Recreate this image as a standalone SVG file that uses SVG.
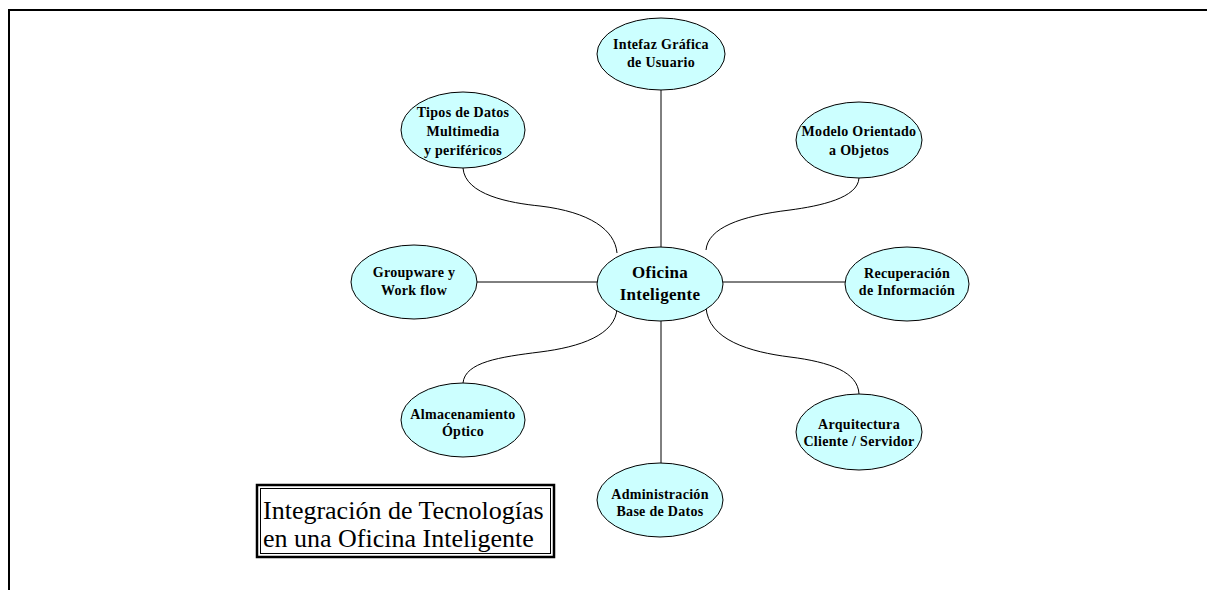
<svg xmlns="http://www.w3.org/2000/svg" width="1207" height="590" viewBox="0 0 1207 590">
<style>
.n ellipse{fill:#ccffff;stroke:#000;stroke-width:1}
.n text{font-family:"Liberation Serif","Times New Roman",serif;font-weight:bold;font-size:14px;letter-spacing:0.3px;text-anchor:middle;fill:#000}
.c path,.c line{fill:none;stroke:#000;stroke-width:1}
.t{font-family:"Liberation Serif","Times New Roman",serif;font-size:26px;fill:#000}
</style>
<rect width="1207" height="590" fill="#fff"/>
<path d="M9,590 V10 H1207" fill="none" stroke="#000" stroke-width="2"/>
<g class="c" id="connectors">
<line x1="661" y1="90" x2="661" y2="247"/>
<line x1="661" y1="321" x2="661" y2="463"/>
<line x1="477" y1="282" x2="598" y2="282"/>
<line x1="723" y1="282" x2="845" y2="282"/>
<path d="M463,168 C465,195 510,203 540,206 C590,212 615,230 617,253"/>
<path d="M859,178 C858,198 820,206 790,210 C740,216 708,228 706,250"/>
<path d="M617,308 C616,335 580,347 540,352 C500,357 465,362 463,383"/>
<path d="M706,307 C708,340 750,352 790,357 C830,362 858,372 859,394"/>
</g>
<g class="n" id="interfaz">
<ellipse cx="661" cy="54" rx="64" ry="36"/>
<text x="661" y="49">Intefaz Gráfica</text>
<text x="661" y="67">de Usuario</text>
</g>
<g class="n" id="tipos">
<ellipse cx="463" cy="130" rx="62" ry="38"/>
<text x="463" y="117">Tipos de Datos</text>
<text x="463" y="136">Multimedia</text>
<text x="463" y="155">y periféricos</text>
</g>
<g class="n" id="modelo">
<ellipse cx="859" cy="140" rx="63" ry="38"/>
<text x="859" y="136">Modelo Orientado</text>
<text x="859" y="155">a Objetos</text>
</g>
<g class="n" id="groupware">
<ellipse cx="414" cy="282" rx="63" ry="37"/>
<text x="414" y="277">Groupware y</text>
<text x="414" y="295">Work flow</text>
</g>
<g class="n" id="oficina">
<ellipse cx="660" cy="284" rx="63" ry="37"/>
<text x="660" y="278" style="font-size:17px">Oficina</text>
<text x="660" y="300" style="font-size:17px">Inteligente</text>
</g>
<g class="n" id="recuperacion">
<ellipse cx="907" cy="284" rx="62" ry="37"/>
<text x="907" y="278">Recuperación</text>
<text x="907" y="295">de Información</text>
</g>
<g class="n" id="almacenamiento">
<ellipse cx="463" cy="420" rx="62" ry="37"/>
<text x="463" y="419">Almacenamiento</text>
<text x="463" y="436">Óptico</text>
</g>
<g class="n" id="arquitectura">
<ellipse cx="859" cy="432" rx="63" ry="38"/>
<text x="859" y="429">Arquitectura</text>
<text x="859" y="446">Cliente / Servidor</text>
</g>
<g class="n" id="administracion">
<ellipse cx="660" cy="500" rx="63" ry="37"/>
<text x="660" y="499">Administración</text>
<text x="660" y="516">Base de Datos</text>
</g>
<g id="titulo">
<rect x="257" y="485" width="297" height="72" fill="#fff" stroke="#000" stroke-width="2.5"/>
<rect x="260.5" y="488.5" width="290" height="65" fill="none" stroke="#000" stroke-width="1"/>
<text class="t" x="263" y="519">Integración de Tecnologías</text>
<text class="t" x="263" y="547">en una Oficina Inteligente</text>
</g>
</svg>
